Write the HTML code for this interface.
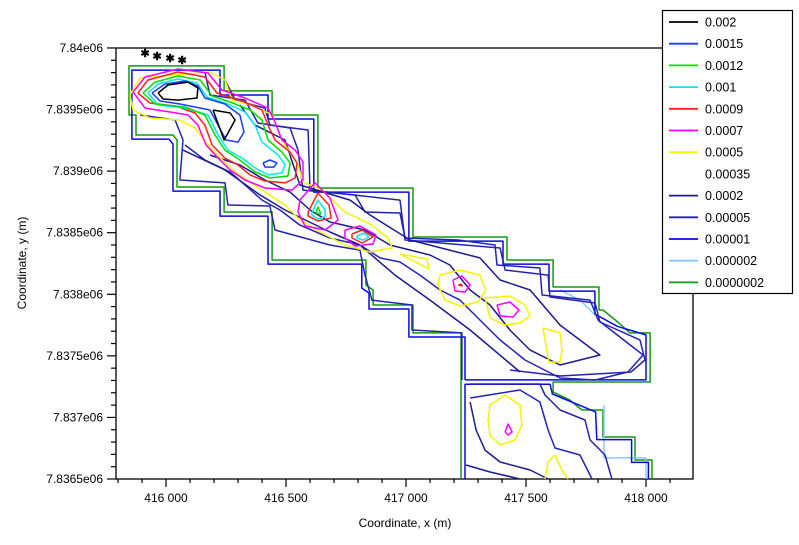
<!DOCTYPE html>
<html><head><meta charset="utf-8"><style>
html,body{margin:0;padding:0;background:#fff;}
svg{display:block;font-family:"Liberation Sans",sans-serif;}
</style></head><body>
<svg id="chart" width="799" height="545" viewBox="0 0 799 545">
<g id="axes"></g>
<g id="series"></g>
<g id="legend"></g>
</svg>
<script>
const NS="http://www.w3.org/2000/svg";
const xBase=415800, yBase=7836500;
const xTicks=[416000,416500,417000,417500,418000];
const xTickLabels=["416 000","416 500","417 000","417 500","418 000"];
const yTicks=[7836500,7837000,7837500,7838000,7838500,7839000,7839500,7840000];
const yTickLabels=["7.8365e06","7.837e06","7.8375e06","7.838e06","7.8385e06","7.839e06","7.8395e06","7.84e06"];
const levels=["0.002","0.0015","0.0012","0.001","0.0009","0.0007","0.0005","0.00035","0.0002","0.00005","0.00001","0.000002","0.0000002"];
const levelColors=["#000000","#1e3cff","#00e000","#00e8f0","#ff2020","#ff00ff","#f5f500","none","#1c1c8c","#2424b0","#0a0ae0","#8cc8ff","#129a12"];

const cGreenOuter=[[1429,0],[1429,1186],[1229,1186],[1229,1413],[1063,1413],[1063,1535],[1033,1575],[1033,1778],[642,1778],[642,2168],[442,2168],[442,2371],[246,2371],[246,2753],[229,2793],[75,2793],[75,2956],[46,2956],[46,3354],[442,3354],[442,3151],[642,3151],[642,2956],[833,2956],[833,2363],[1229,2363],[1229,1965],[1621,1965],[1621,1778],[1813,1778],[1813,1559],[2004,1559],[2004,1372],[2021,1372],[2092,1259],[2133,1186],[2217,1186],[2217,788],[1813,788],[1813,706],[1883,641],[1933,560],[2021,560],[2021,341],[2154,341],[2154,154],[2225,154],[2225,0]];
const cBlueBoundary=[[1446,805],[1446,1153],[1212,1153],[1212,1380],[1046,1380],[1046,1510],[1016,1550],[1016,1745],[625,1745],[625,2135],[425,2135],[425,2338],[229,2338],[229,2720],[212,2760],[58,2760],[58,3320],[425,3320],[425,3118],[625,3118],[625,2923],[816,2923],[816,2330],[1212,2330],[1212,1932],[1604,1932],[1604,1745],[1796,1745],[1796,1526],[1987,1526],[1987,1340],[2080,1240],[2200,1170],[2200,805],[1446,805]];
const cBlueLower=[[1446,0],[1446,770],[1800,770],[1810,690],[1990,545],[1995,320],[2140,320],[2140,135],[2210,135],[2210,0]];
const cLightBlueA=[[2025,600],[2025,171],[2200,171],[2200,0]];
const cLightBlueB=[[1842,1535],[1925,1453],[1988,1332]];
const cNavyOuter=[[362,3305],[383,3118],[529,3077],[583,2891],[717,2850],[750,2671],[771,2346],[988,2306],[1029,2168],[1175,2160],[1196,1957],[1417,1941],[1571,1900],[1579,1738],[1758,1713],[1767,1494],[1967,1453],[2000,1291],[2188,1007],[2125,869],[1988,804],[1842,820],[1696,966],[1592,1129],[1508,1291],[1425,1453],[1342,1535],[1258,1656],[1175,1762],[1092,1795],[1008,1900],[883,1957],[758,2062],[675,2184],[600,2265],[529,2387],[467,2493],[362,2590],[279,2712]];
const cNavyRight2=[[446,3240],[488,3077],[612,3012],[633,2874],[792,2834],[800,2346],[1175,2265],[1196,1941],[1592,1876],[1613,1697],[1792,1656],[1800,1478],[1988,1429],[2008,1275],[2175,1129],[2196,966],[2137,869],[1842,836],[1633,885]];
const cNavyLeft=[[92,2956],[238,2915],[271,2753],[258,2428],[446,2404],[458,2225],[633,2217],[654,2022],[883,1900],[1008,1859],[1029,1656],[1058,1453],[1225,1413],[1225,1210],[1433,1186],[1433,804]];
const cNavyLeft2=[[271,2671],[446,2509],[592,2306],[696,2184],[883,2006],[1008,1900],[1154,1656],[1300,1453],[1467,1210],[1675,869]];
const cNavyInner=[[508,3037],[571,2874],[696,2753],[758,2387],[967,2265],[1050,2144],[1217,1941],[1508,1795],[1592,1616],[1717,1535],[1842,1250],[2008,1007],[1842,926],[1717,1047],[1633,1210],[1550,1413],[1467,1535],[1383,1738],[1300,1819],[1133,1900],[1029,2022],[883,2087],[800,2184],[717,2330],[612,2428],[508,2550],[383,2631]];
const cNavyB1=[[1467,771],[1758,771],[1779,682],[1842,560],[1946,479],[1967,317],[2029,195],[2058,0]];
const cNavyB2=[[1467,658],[1675,723],[1758,625],[1792,398],[1821,252],[1925,195],[1975,0]];
const cNavyB3=[[1467,625],[1492,398],[1529,235],[1592,138],[1717,73],[1792,0]];
const cNavyB4=[[1450,114],[1550,57],[1675,0]];
const cYellow1=[[50,3118],[92,3256],[383,3305],[446,3240],[475,3077],[558,3037],[642,2956],[683,2753],[750,2550],[771,2412],[850,2346],[946,2168],[1058,2062],[1125,1957],[1142,1876],[1050,1843],[946,1900],[842,2006],[750,2119],[696,2225],[600,2346],[488,2493],[392,2671],[321,2850],[258,2915],[133,2931],[63,2996],[50,3118]];
const cYellow2=[[1175,1827],[1287,1786],[1296,1705],[1175,1827]];
const cYellow3=[[1342,1656],[1425,1697],[1508,1656],[1533,1535],[1500,1437],[1425,1405],[1363,1453],[1333,1575],[1342,1656]];
const cYellow4=[[1529,1470],[1633,1486],[1696,1413],[1717,1324],[1675,1267],[1613,1250],[1550,1307],[1529,1470]];
const cYellow5=[[1771,1226],[1842,1186],[1850,1047],[1842,950],[1796,950],[1783,1088],[1771,1226]];
const cYellow6=[[1550,601],[1613,682],[1675,601],[1683,438],[1654,317],[1592,276],[1550,357],[1542,479],[1550,601]];
const cYellow7=[[1779,0],[1792,138],[1821,195],[1850,73],[1875,0]];
const cMagentaTop=[[63,3142],[113,3264],[250,3329],[375,3297],[433,3159],[529,3094],[625,3012],[654,2899],[683,2753],[738,2671],[771,2574],[771,2428],[725,2346],[612,2363],[529,2428],[467,2509],[417,2606],[367,2712],[333,2874],[292,2956],[217,2980],[113,3012],[63,3142]];
const cMagenta2=[[758,2265],[821,2404],[883,2282],[917,2103],[863,2022],[779,2054],[750,2168],[758,2265]];
const cMagenta3=[[946,2022],[1008,2054],[1075,1981],[1063,1908],[988,1892],[946,1957],[946,2022]];
const cMagenta4=[[1396,1616],[1433,1648],[1467,1575],[1446,1518],[1404,1527],[1396,1616]];
const cMagenta5=[[1579,1413],[1633,1437],[1671,1372],[1646,1315],[1592,1324],[1579,1413]];
const cMagenta6=[[1613,382],[1625,447],[1642,382],[1625,357],[1613,382]];
const cRedTop=[[83,3134],[125,3240],[250,3305],[362,3264],[412,3134],[508,3077],[600,2996],[625,2874],[654,2753],[717,2655],[746,2566],[738,2444],[696,2404],[612,2420],[550,2469],[500,2550],[446,2606],[392,2712],[362,2874],[321,2972],[238,3029],[133,3053],[83,3134]];
const cRed2=[[792,2168],[833,2322],[879,2225],[888,2119],[833,2095],[792,2136],[792,2168]];
const cRed3=[[975,1989],[1017,2022],[1063,1965],[1017,1916],[975,1957],[975,1989]];
const cRed4=[[1418,1575],[1430,1582],[1434,1568],[1418,1575]];
const cGreenTop=[[104,3134],[154,3223],[250,3272],[342,3240],[392,3110],[467,3061],[550,2996],[600,2915],[625,2753],[683,2655],[717,2566],[708,2460],[633,2444],[571,2493],[508,2590],[446,2671],[404,2793],[362,2956],[279,3021],[154,3045],[104,3134]];
const cGreen2=[[825,2160],[833,2209],[846,2152],[825,2160]];
const cCyanTop=[[125,3134],[167,3207],[250,3248],[329,3215],[371,3102],[458,3045],[529,2980],[571,2874],[600,2736],[667,2631],[696,2550],[683,2485],[625,2469],[571,2526],[517,2606],[458,2671],[417,2793],[375,2956],[279,3012],[167,3037],[125,3134]];
const cCyan2=[[808,2160],[833,2265],[863,2184],[863,2128],[833,2111],[808,2144],[808,2160]];
const cCyan3=[[996,1973],[1025,1997],[1046,1965],[1021,1941],[996,1957],[996,1973]];
const cBlueTop=[[142,3134],[196,3207],[279,3232],[333,3191],[362,3094],[446,3045],[508,2956],[525,2818],[500,2736],[450,2753],[417,2874],[383,2996],[258,3045],[175,3069],[142,3134]];
const cBlue2=[[604,2566],[633,2590],[662,2566],[650,2533],[613,2533],[604,2566]];
const cBlack1=[[167,3134],[208,3199],[292,3223],[333,3175],[329,3094],[250,3077],[188,3086],[167,3134]];
const cBlack2=[[396,2996],[467,2972],[488,2915],[458,2809],[442,2753],[396,2996]];
const starPts=[[113,3459],[163,3435],[217,3419],[267,3402]];

const X0=116,X1=693,Y0=48,Y1=479;
function xs(x){return 118+(x-415800)*0.24;}
function ys(y){return 479-(y-7836500)/8.12;}
function mk(tag,attrs,parent){const e=document.createElementNS(NS,tag);for(const k in attrs)e.setAttribute(k,attrs[k]);parent.appendChild(e);return e;}
const axes=document.getElementById('axes'),series=document.getElementById('series'),legend=document.getElementById('legend');

const frame=mk('rect',{x:X0,y:Y0,width:X1-X0,height:Y1-Y0,fill:'none',stroke:'#000','stroke-width':1.3},axes);


for(let v=415800;v<=418100;v+=100){
  const major=(v%500===0);
  const t=mk('line',{x1:xs(v),x2:xs(v),y1:Y1,y2:Y1+(major?8:4),stroke:'#000','stroke-width':1.2},axes);
  
  
}
xTicks.forEach((v,i)=>{
  const t=mk('text',{x:xs(v),y:502,'text-anchor':'middle','font-size':12},axes);
  t.textContent=xTickLabels[i];
  
  
});
for(let v=7836500;v<=7840000;v+=100){
  const major=(v%500===0);
  const t=mk('line',{x1:X0-(major?9:5),x2:X0,y1:ys(v),y2:ys(v),stroke:'#000','stroke-width':1.2},axes);
  
  
}
yTicks.forEach((v,i)=>{
  const t=mk('text',{x:103,y:ys(v)+4,'text-anchor':'end','font-size':12},axes);
  t.textContent=yTickLabels[i];
  
  
});
const xt=mk('text',{x:405,y:527,'text-anchor':'middle','font-size':12},axes);
xt.textContent='Coordinate, x (m)';


const yt=mk('text',{x:0,y:0,'text-anchor':'middle','font-size':12,transform:'translate(26,263) rotate(-90)'},axes);
yt.textContent='Coordinate, y (m)';



function draw(pts,color,name,w){
  const d=pts.map((p,i)=>(i?'L':'M')+xs(xBase+p[0]).toFixed(1)+' '+ys(yBase+p[1]).toFixed(1)).join(' ');
  const e=mk('path',{d:d,fill:'none',stroke:color,'stroke-width':w||1.5,'stroke-linejoin':'round'},series);
  
  
}
const C=levelColors;
draw(cGreenOuter,C[12],'contour-0.0000002');
draw(cLightBlueA,C[11],'contour-0.000002');
draw(cLightBlueB,C[11],'contour-0.000002');
draw(cBlueBoundary,C[10],'contour-0.00001');
draw(cBlueLower,C[10],'contour-0.00001');
draw(cNavyOuter,C[9],'contour-0.00005');
draw(cNavyRight2,C[9],'contour-0.00005');
draw(cNavyLeft,C[9],'contour-0.00005');
draw(cNavyB1,C[9],'contour-0.00005');
draw(cNavyB2,C[9],'contour-0.00005');
draw(cNavyInner,C[8],'contour-0.0002');
draw(cNavyLeft2,C[8],'contour-0.0002');
draw(cNavyB3,C[8],'contour-0.0002');
draw(cNavyB4,C[8],'contour-0.0002');
[cYellow1,cYellow2,cYellow3,cYellow4,cYellow5,cYellow6,cYellow7].forEach(p=>draw(p,C[6],'contour-0.0005'));
[cMagentaTop,cMagenta2,cMagenta3,cMagenta4,cMagenta5,cMagenta6].forEach(p=>draw(p,C[5],'contour-0.0007'));
[cRedTop,cRed2,cRed3,cRed4].forEach(p=>draw(p,C[4],'contour-0.0009'));
[cCyanTop,cCyan2,cCyan3].forEach(p=>draw(p,C[3],'contour-0.001'));
[cGreenTop,cGreen2].forEach(p=>draw(p,C[2],'contour-0.0012'));
[cBlueTop,cBlue2].forEach(p=>draw(p,C[1],'contour-0.0015'));
[cBlack1,cBlack2].forEach(p=>draw(p,C[0],'contour-0.002'));
starPts.forEach(p=>{
  const s=mk('text',{x:xs(xBase+p[0]),y:ys(yBase+p[1])+4,'text-anchor':'middle','font-size':11,'font-weight':'bold'},series);
  s.textContent='✱';
  
  
});

const lb=mk('rect',{x:662.5,y:10.5,width:130,height:283,fill:'#fff',stroke:'#000','stroke-width':1.2},legend);


levels.forEach((lv,i)=>{
  const y=22+i*21.7;
  const g=mk('g',{},legend);
  
  
  if(C[i]!=='none'){mk('line',{x1:669,x2:698,y1:y,y2:y,stroke:C[i],'stroke-width':1.8},g);}
  const t=mk('text',{x:705,y:y+4.5,'font-size':12.5},g);
  t.textContent=lv;
});
</script>
</body></html>
